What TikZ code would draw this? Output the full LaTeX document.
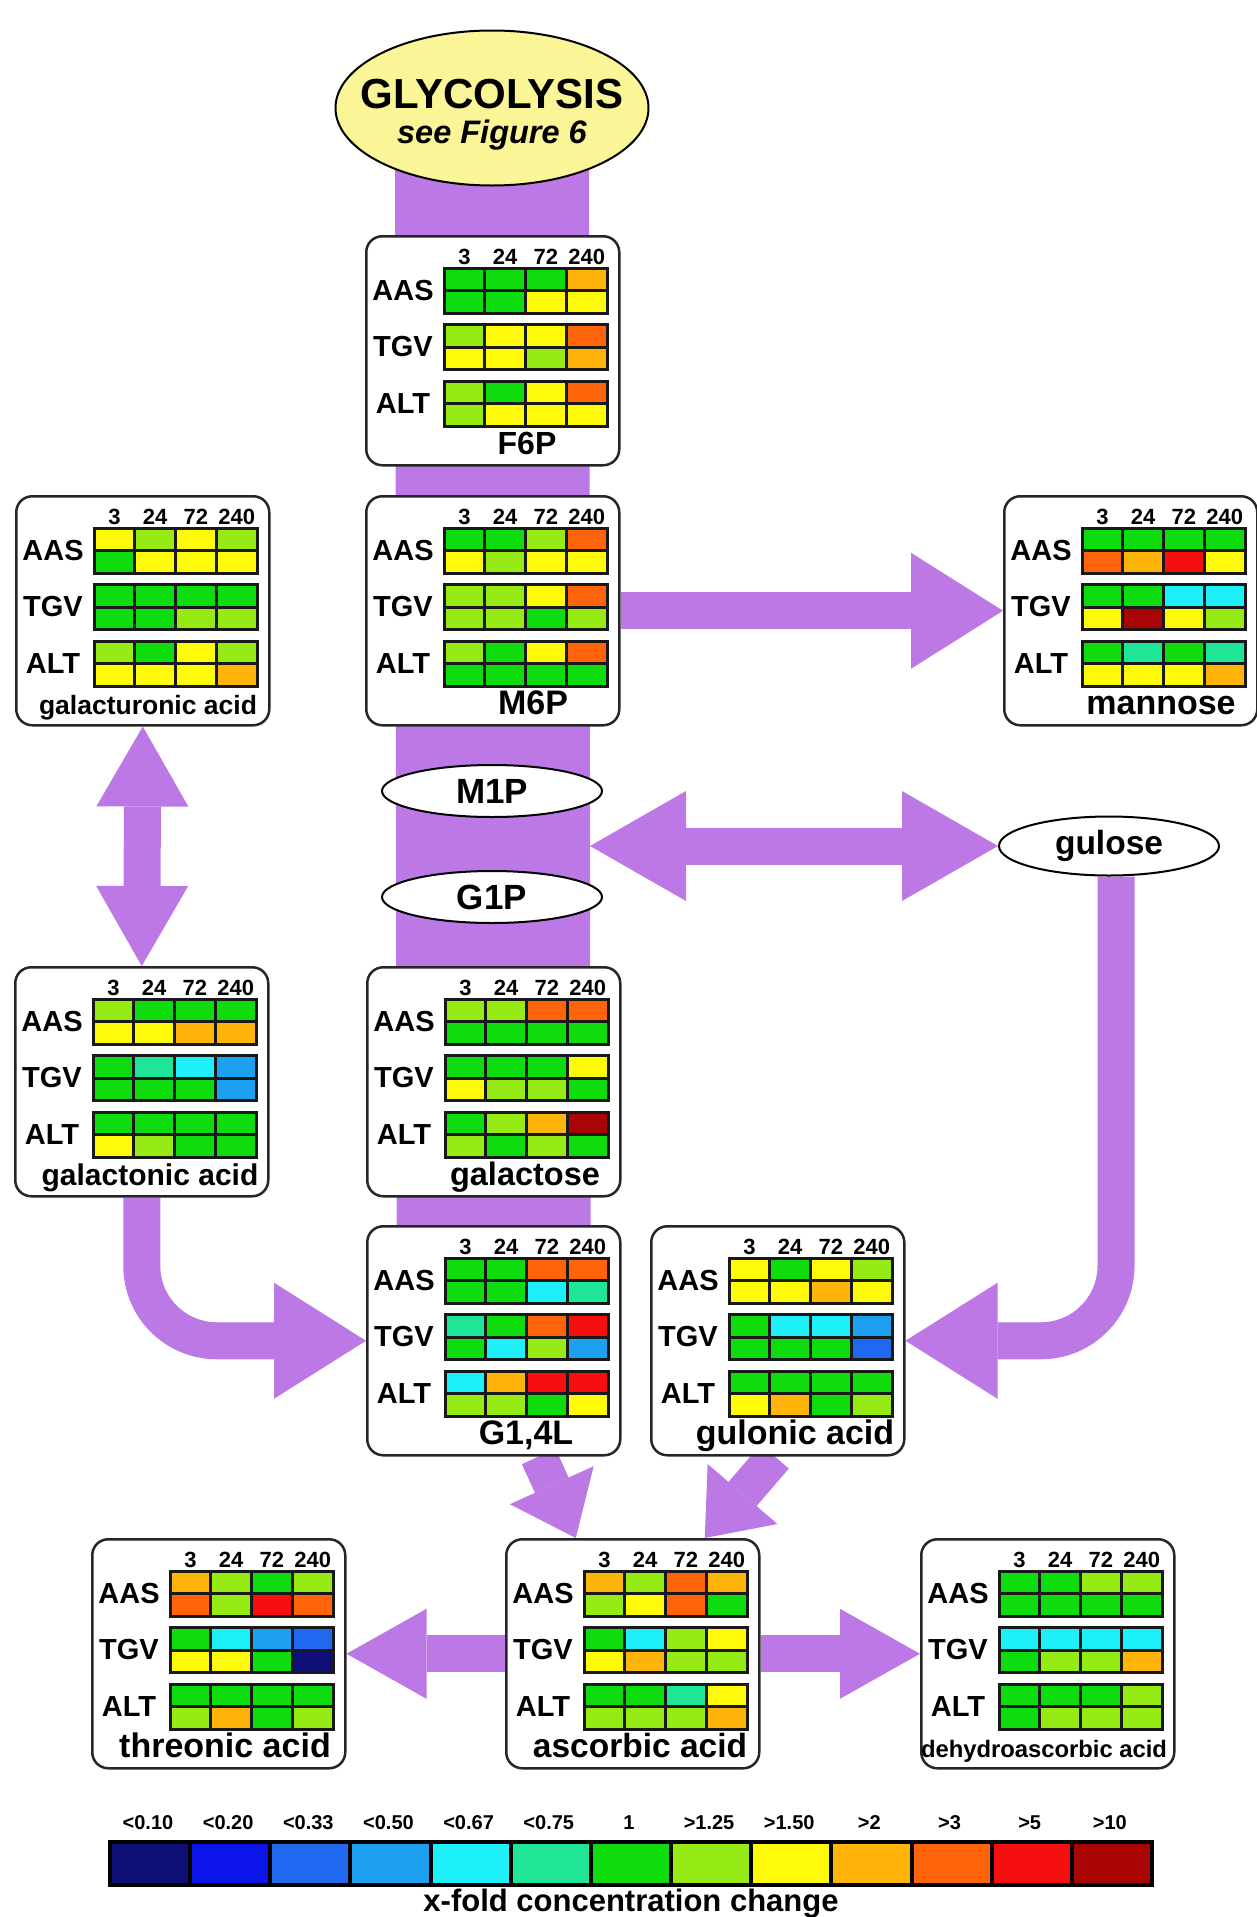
\documentclass[tikz,border=0pt]{standalone}
\usepackage{fontspec}
\setmainfont{Liberation Sans}
\usetikzlibrary{arrows.meta,shapes.geometric,positioning}

\definecolor{flow}{RGB}{188,120,228}
\definecolor{glyfill}{RGB}{250,245,150}
\definecolor{c0}{RGB}{15,15,120}
\definecolor{c1}{RGB}{10,20,235}
\definecolor{c2}{RGB}{30,105,240}
\definecolor{c3}{RGB}{30,160,240}
\definecolor{c4}{RGB}{30,240,250}
\definecolor{c5}{RGB}{30,230,150}
\definecolor{c6}{RGB}{15,220,15}
\definecolor{c7}{RGB}{150,235,20}
\definecolor{c8}{RGB}{255,250,10}
\definecolor{c9}{RGB}{255,180,10}
\definecolor{c10}{RGB}{255,100,10}
\definecolor{c11}{RGB}{245,15,15}
\definecolor{c12}{RGB}{170,5,5}

\pgfdeclarelayer{background}
\pgfsetlayers{background,main}

\tikzset{
  metbox/.style={draw=black!85,line width=2.5pt,fill=white,rounded corners=16pt,
    anchor=north west,minimum width=253pt,minimum height=229pt,inner sep=0pt},
  hdr/.style={anchor=base,inner sep=0pt,font=\bfseries\fontsize{22}{24}\selectfont},
  rowlab/.style={anchor=base,inner sep=0pt,font=\bfseries\fontsize{29}{31}\selectfont},
  namelab/.style={anchor=base,inner sep=0pt},
  cellline/.style={draw=black!90,line width=3pt},
  oval/.style={ellipse,draw,line width=2pt,fill=white,minimum width=220pt,
    minimum height=52pt,inner sep=0pt,font=\bfseries\fontsize{35}{37}\selectfont},
  flowband/.style={draw=flow,line width=194pt},
  fat/.style={draw=flow,line width=37pt},
  tip/.style={-{Triangle[length=92pt,width=116pt,line width=0pt]}},
  lowtip/.style={-{Triangle[length=80pt,width=90pt,line width=0pt]}},
  twotips/.style={{Triangle[length=96pt,width=110pt,line width=0pt]}-{Triangle[length=96pt,width=110pt,line width=0pt]}},
  uptips/.style={{Triangle[length=80pt,width=92pt,line width=0pt]}-{Triangle[length=80pt,width=92pt,line width=0pt]}},
  smalltip/.style={-{Triangle[length=58pt,width=92pt,line width=0pt]}},
  legcell/.style={draw=black,line width=4pt,anchor=north west,minimum width=80.15pt,
    minimum height=43pt,inner sep=0pt},
  leglab/.style={anchor=base,inner sep=0pt,font=\bfseries\fontsize{20}{22}\selectfont}
}

% one block of 2x4 cells
\newcommand{\cells}[3]{%
  \foreach \kk [count=\ci from 0] in {#3}{
    \pgfmathtruncatemacro\cx{mod(\ci,4)}
    \pgfmathtruncatemacro\cy{div(\ci,4)}
    \fill[fill=c\kk] ({#1+\cx*40.75},{#2+\cy*22.5}) rectangle ++(40.75,22.5);
  }
  \draw[cellline] ({#1},{#2}) rectangle ++(163,45);
  \draw[cellline] ({#1},{#2+22.5}) -- ++(163,0);
  \foreach \ci in {1,2,3}
    \draw[cellline] ({#1+\ci*40.75},{#2}) -- ++(0,45);
}

% box: name, x, y, AAS, TGV, ALT
\newcommand{\metab}[6]{%
  \node[metbox] (#1) at (#2,#3) {};
  \foreach \hv [count=\ci from 0] in {3,24,72,240}
    \node[hdr] (#1-h\ci) at ({#2+99.4+\ci*40.75},{#3+29}) {\hv};
  \node[rowlab] (#1-a) at ({#2+38},{#3+65}) {AAS};
  \node[rowlab] (#1-t) at ({#2+38},{#3+121.5}) {TGV};
  \node[rowlab] (#1-l) at ({#2+38},{#3+178}) {ALT};
  \cells{#2+79}{#3+33}{#4}
  \cells{#2+79}{#3+89.5}{#5}
  \cells{#2+79}{#3+146}{#6}
}

\begin{document}
\begin{tikzpicture}[x=1pt,y=-1pt,line cap=butt]
\useasboundingbox (0,0) rectangle (1257,1917);

\node[ellipse,draw,line width=2pt,fill=glyfill,minimum width=313pt,minimum height=155pt,
  inner sep=0pt] (glyc) at (492,108) {};
\node[anchor=base,inner sep=0pt,font=\bfseries\fontsize{42}{44}\selectfont] (glyc-t) at (492,108) {GLYCOLYSIS};
\node[anchor=base,inner sep=0pt,font=\bfseries\itshape\fontsize{32.5}{34}\selectfont] (glyc-s) at (492,143) {see Figure 6};

\metab{f6p}{365}{235}{6,6,6,9,6,6,8,8}{7,8,8,10,8,8,7,9}{7,6,8,10,7,8,8,8}
\metab{m6p}{365}{495}{6,6,7,10,8,7,8,8}{7,7,8,10,7,7,6,7}{7,6,8,10,6,6,6,6}
\metab{galur}{15}{495}{8,7,8,7,6,8,8,8}{6,6,6,6,6,6,7,7}{7,6,8,7,8,8,8,9}
\metab{man}{1003}{495}{6,6,6,6,10,9,11,8}{6,6,4,4,8,12,8,7}{6,5,6,5,8,8,8,9}
\metab{galon}{14}{966}{7,6,6,6,8,8,9,9}{6,5,4,3,6,6,6,3}{6,6,6,6,8,7,6,6}
\metab{gal}{366}{966}{7,7,10,10,6,6,6,6}{6,6,6,8,8,7,7,6}{6,7,9,12,7,6,7,6}
\metab{g14l}{366}{1225}{6,6,10,10,6,6,4,5}{5,6,10,11,6,4,7,3}{4,9,11,11,7,7,6,8}
\metab{gulac}{650}{1225}{8,6,8,7,8,8,9,8}{6,4,4,3,6,6,6,2}{6,6,6,6,8,9,6,7}
\metab{thr}{91}{1538}{9,7,6,7,10,7,11,10}{6,4,3,2,8,8,6,0}{6,6,6,6,7,9,6,7}
\metab{asc}{505}{1538}{9,7,10,9,7,8,10,6}{6,4,7,8,8,9,7,7}{6,6,5,8,7,7,7,9}
\metab{dha}{920}{1538}{6,6,7,7,6,6,6,6}{4,4,4,4,6,7,7,9}{6,6,6,7,6,7,7,7}

% compound names
\node[namelab,font=\bfseries\fontsize{32}{34}\selectfont] (f6p-n) at (527,454) {F6P};
\node[namelab,font=\bfseries\fontsize{34}{36}\selectfont] (m6p-n) at (533,714) {M6P};
\node[namelab,font=\bfseries\fontsize{26.5}{28}\selectfont] (galur-n) at (148,714) {galacturonic acid};
\node[namelab,font=\bfseries\fontsize{34}{36}\selectfont] (man-n) at (1161,714) {mannose};
\node[namelab,font=\bfseries\fontsize{30}{32}\selectfont] (galon-n) at (150,1185) {galactonic acid};
\node[namelab,font=\bfseries\fontsize{32.5}{34}\selectfont] (gal-n) at (525,1185) {galactose};
\node[namelab,font=\bfseries\fontsize{34}{36}\selectfont] (g14l-n) at (526,1444) {G1,4L};
\node[namelab,font=\bfseries\fontsize{34}{36}\selectfont] (gulac-n) at (795,1444) {gulonic acid};
\node[namelab,font=\bfseries\fontsize{34}{36}\selectfont] (thr-n) at (225,1757) {threonic acid};
\node[namelab,font=\bfseries\fontsize{33.5}{35}\selectfont] (asc-n) at (640,1757) {ascorbic acid};
\node[namelab,font=\bfseries\fontsize{23.8}{25}\selectfont] (dha-n) at (1044,1757) {dehydroascorbic acid};

\node[oval] (m1p) at (492,791) {M1P};
\node[oval] (g1p) at (492,897) {G1P};
\node[oval,minimum height=59pt,font=\bfseries\fontsize{33.5}{35}\selectfont] (gul) at (1109,846) {gulose};

% colour key
\foreach \lab [count=\ci from 0] in {<0.10,<0.20,<0.33,<0.50,<0.67,<0.75,1,>1.25,>1.50,>2,>3,>5,>10}{
  \node[legcell,fill=c\ci] (leg\ci) at ({108+\ci*80.15},1840) {};
  \node[leglab] (legt\ci) at ({148+\ci*80.15},1829) {\lab};
}
\node[anchor=base,inner sep=0pt,font=\bfseries\fontsize{31}{33}\selectfont] (legtitle) at (631,1911) {x-fold concentration change};

\begin{pgfonlayer}{background}
\fill[white] (0,0) rectangle (1257,1917);
\draw[flowband] (glyc.center) -- (g14l.center);
\draw[fat,tip] (m6p.east) -- (man.west);
\draw[fat,uptips] (galur.south) -- (galon.north);
\coordinate (bandr) at (590,846);
\draw[fat,twotips] (bandr) -- (gul.west);
\draw[fat,tip,rounded corners=75pt] ([xshift=7pt]gul.south) |- (gulac.east);
\draw[fat,tip,rounded corners=75pt] (galon.south) |- (g14l.west);
\draw[fat,smalltip] ([xshift=45pt]g14l.south) -- ([xshift=-57pt]asc.north);
\draw[fat,smalltip] ([xshift=-3pt]gulac.south) -- ([xshift=72pt]asc.north);
\draw[fat,lowtip] (asc.west) -- (thr.east);
\draw[fat,lowtip] (asc.east) -- (dha.west);
\end{pgfonlayer}
\end{tikzpicture}
\end{document}
